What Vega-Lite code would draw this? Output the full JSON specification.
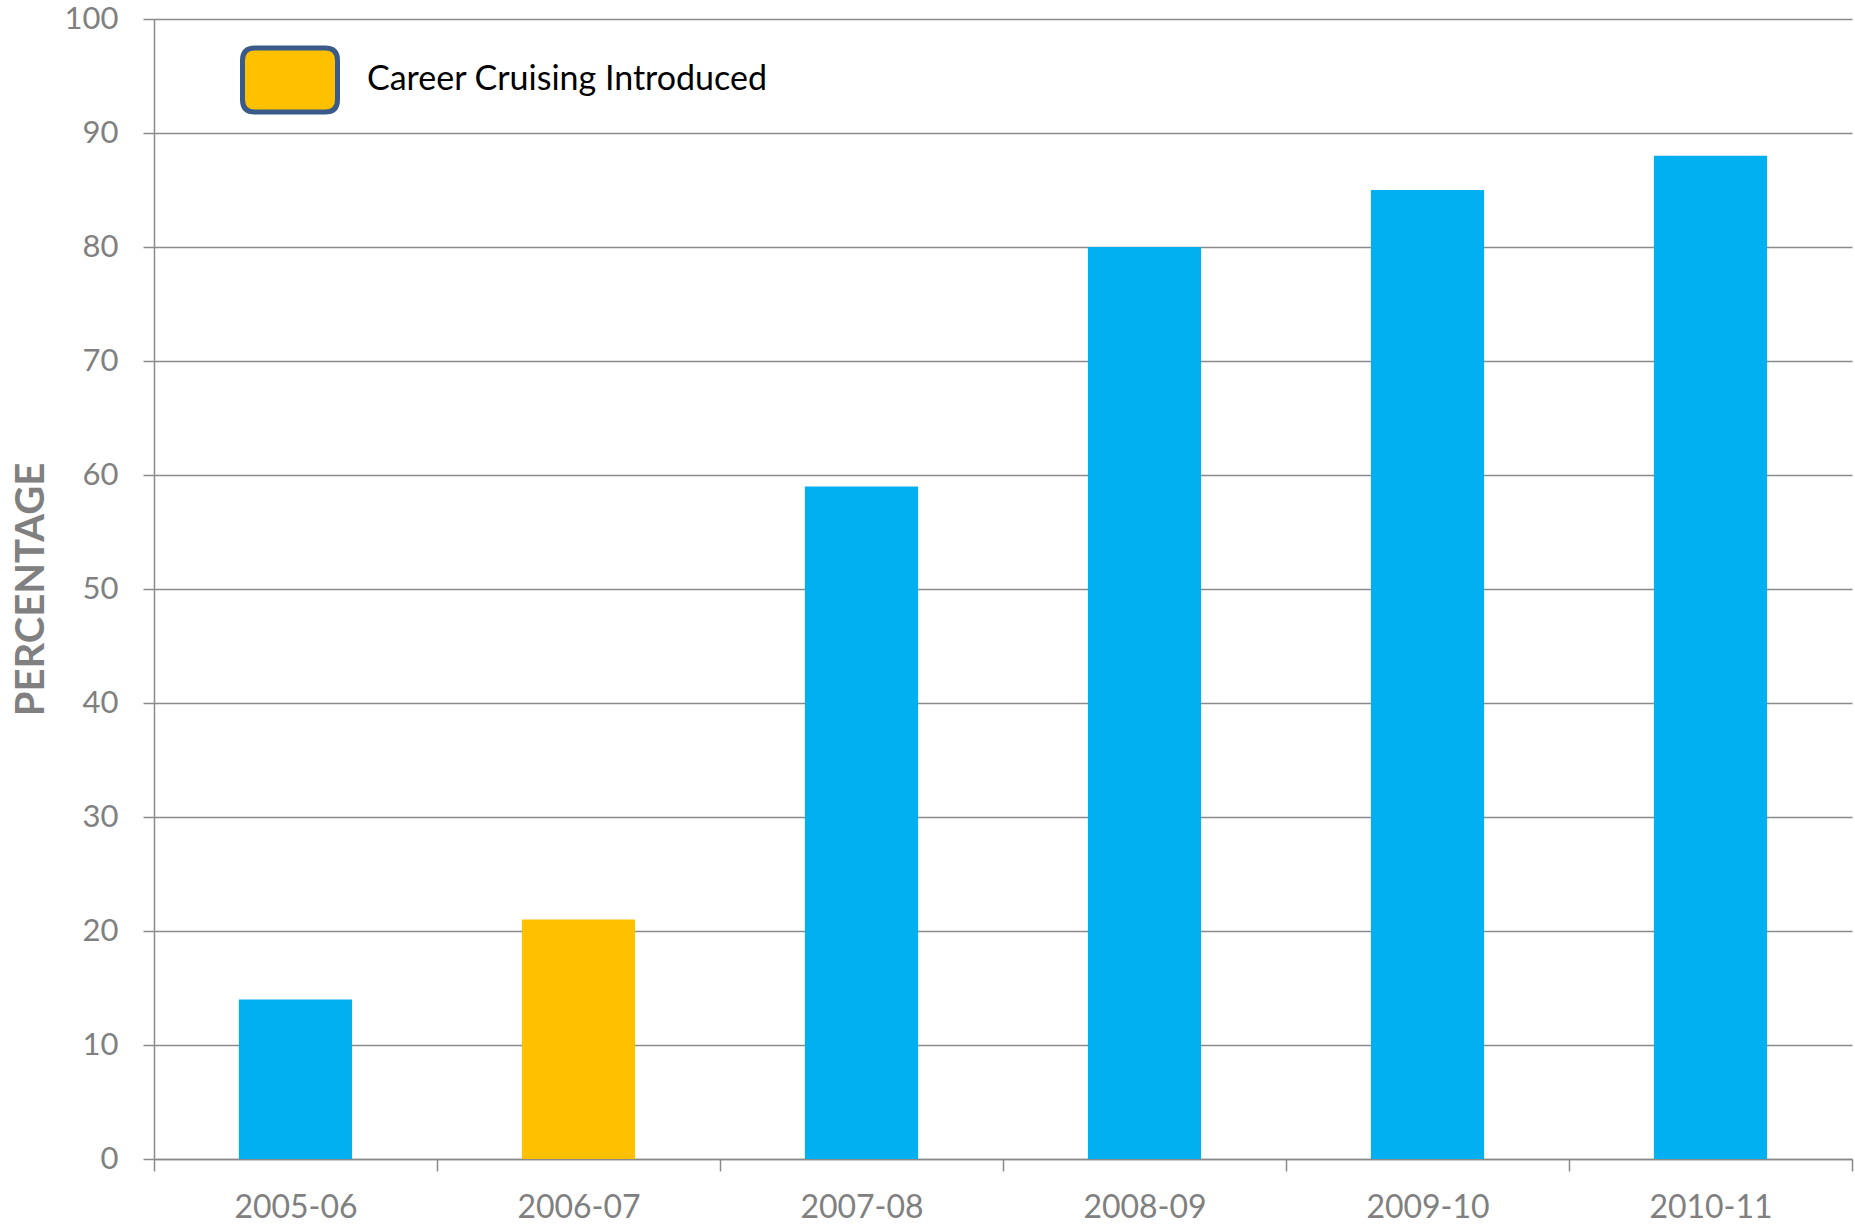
{
  "$schema": "https://vega.github.io/schema/vega-lite/v6.json",
  "autosize": {"type": "none"},
  "width": 1698,
  "height": 1140,
  "padding": {"left": 154, "top": 19, "right": 3, "bottom": 66},
  "background": "white",
  "config": {
    "view": {"stroke": null},
    "font": "Lato"
  },
  "data": {
    "values": [
      {"year": "2005-06", "pct": 14, "phase": "Other"},
      {"year": "2006-07", "pct": 21, "phase": "Career Cruising Introduced"},
      {"year": "2007-08", "pct": 59, "phase": "Other"},
      {"year": "2008-09", "pct": 80, "phase": "Other"},
      {"year": "2009-10", "pct": 85, "phase": "Other"},
      {"year": "2010-11", "pct": 88, "phase": "Other"}
    ]
  },
  "mark": {"type": "bar", "width": {"band": 0.4}},
  "encoding": {
    "x": {
      "field": "year",
      "type": "nominal",
      "sort": null,
      "scale": {"paddingInner": 0, "paddingOuter": 0},
      "axis": {
        "title": null,
        "labelAngle": 0,
        "labelFont": "Lato",
        "labelFontSize": 32,
        "labelColor": "#808080",
        "labelPadding": 21,
        "tickBand": "extent",
        "tickSize": 12,
        "tickColor": "#8a8a8a",
        "tickWidth": 1.5,
        "domainColor": "#8a8a8a",
        "domainWidth": 1.5,
        "grid": false
      }
    },
    "y": {
      "field": "pct",
      "type": "quantitative",
      "scale": {"domain": [0, 100], "nice": false},
      "axis": {
        "title": "PERCENTAGE",
        "titleFont": "Lato",
        "titleFontSize": 40,
        "titleFontWeight": "bold",
        "titleColor": "#808080",
        "titleBaseline": "alphabetic",
        "titleX": -111,
        "values": [0, 10, 20, 30, 40, 50, 60, 70, 80, 90, 100],
        "labelFont": "Lato",
        "labelFontSize": 31,
        "labelColor": "#808080",
        "labelPadding": 25,
        "tickSize": 11,
        "tickColor": "#8a8a8a",
        "tickWidth": 1.5,
        "domainColor": "#8a8a8a",
        "domainWidth": 1.5,
        "grid": true,
        "gridColor": "#8a8a8a",
        "gridWidth": 1.5
      }
    },
    "color": {
      "field": "phase",
      "type": "nominal",
      "scale": {
        "domain": ["Career Cruising Introduced", "Other"],
        "range": ["#FFC000", "#00B0F0"]
      },
      "legend": {
        "title": null,
        "values": ["Career Cruising Introduced"],
        "orient": "none",
        "legendX": 86,
        "legendY": 11,
        "padding": 0,
        "symbolType": "M-0.74,-0.674L0.74,-0.674Q1,-0.674 1,-0.414L1,0.414Q1,0.674 0.74,0.674L-0.74,0.674Q-1,0.674 -1,0.414L-1,-0.414Q-1,-0.674 -0.74,-0.674Z",
        "symbolSize": 9025,
        "symbolStrokeColor": "#3A5B8A",
        "symbolStrokeWidth": 5,
        "symbolOpacity": 1,
        "labelFont": "Lato",
        "labelFontSize": 34,
        "labelColor": "#000000",
        "labelOffset": 27,
        "labelLimit": 800
      }
    }
  }
}
